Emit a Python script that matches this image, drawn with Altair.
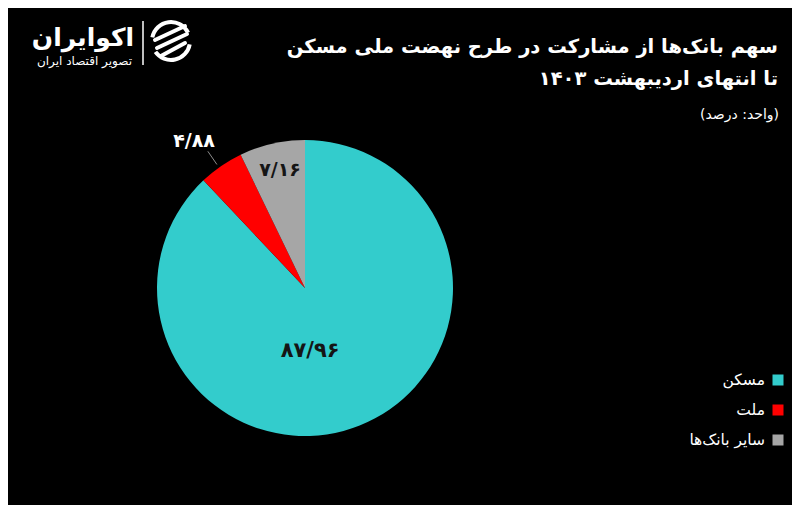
import altair as alt
import pandas as pd

# ---- data ----
categories = ["مسکن", "ملت", "سایر بانک‌ها"]
shares = [87.96, 4.88, 7.16]
share_labels = ["۸۷/۹۶", "۴/۸۸", "۷/۱۶"]
colors = ["#33CCCC", "#FF0000", "#A6A6A6"]
title_lines = ["سهم بانک‌ها از مشارکت در طرح نهضت ملی مسکن", "تا انتهای اردیبهشت ۱۴۰۳"]
unit_text = "(واحد: درصد)"
brand = "اکوایران"
brand_sub = "تصویر اقتصاد ایران"

RLE, PDF = "\u202B", "\u202C"
def rtl(s):
    return RLE + s + PDF

FONT = "DejaVu Sans"
CX, CY, R = 297, 280, 148

df = pd.DataFrame({
    "cat": categories,
    "value": shares,
    "label": share_labels,
    "idx": list(range(len(categories))),
    "legend": [rtl(c) for c in categories],
})

base = alt.Chart(df)
color_enc = alt.Color("cat:N", scale=alt.Scale(domain=categories, range=colors), legend=None)

pie = base.mark_arc(outerRadius=R).encode(
    theta=alt.Theta("value:Q", stack=True),
    color=color_enc,
    order=alt.Order("idx:Q"),
    x=alt.value(CX),
    y=alt.value(CY),
)

angles = base.transform_joinaggregate(total="sum(value)").transform_window(
    cum="sum(value)", sort=[alt.SortField("idx", order="ascending")]
).transform_calculate(
    mid="(datum.cum - datum.value / 2) / datum.total * 2 * PI"
)

def label_layer(i, r, dx, color, size):
    return angles.transform_filter(f"datum.idx == {i}").transform_calculate(
        px=f"{CX} + {r} * sin(datum.mid)", py=f"{CY} - {r} * cos(datum.mid)"
    ).mark_text(
        font=FONT, fontSize=size, fontWeight="bold", color=color,
        align="center", baseline="middle", dx=dx,
    ).encode(
        x=alt.X("px:Q", scale=None),
        y=alt.Y("py:Q", scale=None),
        text="label:N",
    )

lab_big = label_layer(0, 68, -20, "#151515", 21)
lab_red = label_layer(1, 178, -10, "#FFFFFF", 19)
lab_gray = label_layer(2, 121, 2, "#151515", 19)

leader = angles.transform_filter("datum.idx == 1").transform_calculate(
    ax=f"{CX} + 150 * sin(datum.mid) - 3",
    ay=f"{CY} - 150 * cos(datum.mid)",
    bx=f"{CX} + 166 * sin(datum.mid) - 3",
    by=f"{CY} - 166 * cos(datum.mid)",
).mark_rule(color="#8C8C8C", strokeWidth=1).encode(
    x=alt.X("ax:Q", scale=None), y=alt.Y("ay:Q", scale=None),
    x2="bx:Q", y2="by:Q",
)

# ---- legend (manual, symbols on the right of labels) ----
leg = base.transform_calculate(ly="372 + datum.idx * 30")
leg_sq = leg.mark_square(size=121, opacity=1).encode(
    x=alt.value(770), y=alt.Y("ly:Q", scale=None), color=color_enc,
)
leg_tx = leg.mark_text(font=FONT, fontSize=15.5, color="#FFFFFF", align="right", baseline="middle").encode(
    x=alt.value(757), y=alt.Y("ly:Q", scale=None), text="legend:N",
)

# ---- titles ----
def text_at(s, x, y, size, bold=True):
    return alt.Chart(pd.DataFrame({"t": [rtl(s)]})).mark_text(
        font=FONT, fontSize=size, fontWeight="bold" if bold else "normal",
        color="#FFFFFF", align="right", baseline="middle",
    ).encode(x=alt.value(x), y=alt.value(y), text="t:N")

title1 = text_at(title_lines[0], 770, 39, 19.5)
title2 = text_at(title_lines[1], 770, 71, 19.5)
unit = text_at(unit_text, 771, 107, 14, bold=False)

# ---- brand ----
brand_t = text_at(brand, 126, 30, 25)
brand_s = text_at(brand_sub, 124, 53, 12, bold=False)
sep = alt.Chart(pd.DataFrame({"a": [0]})).mark_rule(color="#FFFFFF", strokeWidth=1.5).encode(
    x=alt.value(135), y=alt.value(13), y2=alt.value(57)
)
icon_df = pd.DataFrame({"s": [4.9, 1.75], "e": [7.4, 4.1]})
icon_ring = alt.Chart(icon_df).mark_arc(color="#FFFFFF", innerRadius=17, outerRadius=21).encode(
    theta=alt.Theta("s:Q", scale=None), theta2="e:Q",
    x=alt.value(163), y=alt.value(33),
)
stripe_df = pd.DataFrame({"x1": [147, 149, 153], "y1": [32, 40, 48], "x2": [177, 179, 177], "y2": [18, 26, 35]})
icon_str = alt.Chart(stripe_df).mark_rule(color="#FFFFFF", strokeWidth=4, strokeCap="round").encode(
    x=alt.X("x1:Q", scale=None), y=alt.Y("y1:Q", scale=None), x2="x2:Q", y2="y2:Q",
)

chart = alt.layer(
    pie, leader, lab_big, lab_red, lab_gray, leg_sq, leg_tx,
    title1, title2, unit, brand_t, brand_s, sep, icon_ring, icon_str,
).resolve_scale(color="independent").properties(
    width=784, height=497, background="#000000", padding=0,
    autosize=alt.AutoSizeParams(type="none"),
).configure_view(stroke=None)

chart.save("out.html", embed_options={"renderer": "svg", "actions": False})
